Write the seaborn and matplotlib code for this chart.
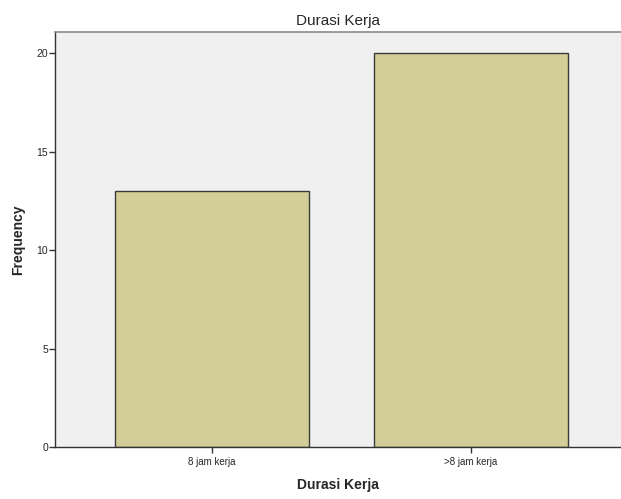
import pandas as pd
import seaborn as sns
import matplotlib.pyplot as plt

# category counts
categories = ['8 jam kerja', '>8 jam kerja']
frequency = [13, 20]
y_ticks = [0, 5, 10, 15, 20]

df = pd.DataFrame({'durasi': categories, 'freq': frequency})

sns.set_style('white')
plt.rcParams['font.family'] = ['Liberation Sans', 'DejaVu Sans']

fig = plt.figure(figsize=(6.21, 4.99), dpi=100)
ax = fig.add_axes([0.0886, 0.1042, 0.9114, 0.8317])
ax.set_facecolor('#F0F0F0')

sns.barplot(data=df, x='durasi', y='freq', ax=ax, color='#D3CE97',
            edgecolor='#3A3A3A', linewidth=1.0, width=0.75, saturation=1)

ax.set_xlim(-0.606, 1.58)
ax.set_ylim(0, 21.07)
ax.set_yticks(y_ticks)
ax.tick_params(axis='both', bottom=True, left=True, length=4, width=1,
               color='#333333', direction='out')
ax.tick_params(axis='x', labelsize=7, pad=3)
ax.tick_params(axis='y', labelsize=7.5, pad=1)

for side in ['left', 'bottom']:
    ax.spines[side].set_color('#333333')
    ax.spines[side].set_linewidth(1.0)
ax.spines['top'].set_color('#8A8A8A')
ax.spines['top'].set_linewidth(1.2)
ax.spines['right'].set_visible(False)

ax.set_title('Durasi Kerja', fontsize=11, pad=5)
ax.set_xlabel('Durasi Kerja', fontsize=10, fontweight='bold', labelpad=8)
ax.set_ylabel('Frequency', fontsize=10, fontweight='bold', labelpad=8)

fig.savefig('out.png', dpi=100)
